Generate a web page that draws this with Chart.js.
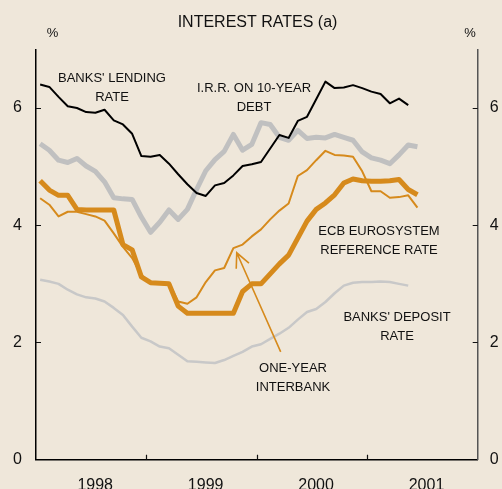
<!DOCTYPE html>
<html>
<head>
<meta charset="utf-8">
<script src="https://cdn.jsdelivr.net/npm/chart.js@4.4.1/dist/chart.umd.min.js"></script>
<style>
  html, body { margin: 0; padding: 0; background: #EFE7DA; }
  canvas { display: block; }
</style>
</head>
<body>
<canvas id="c" width="502" height="489"></canvas>
<script>
// ---------- DATA ----------
const months = [
  '1998-01','1998-02','1998-03','1998-04','1998-05','1998-06','1998-07','1998-08','1998-09','1998-10','1998-11','1998-12',
  '1999-01','1999-02','1999-03','1999-04','1999-05','1999-06','1999-07','1999-08','1999-09','1999-10','1999-11','1999-12',
  '2000-01','2000-02','2000-03','2000-04','2000-05','2000-06','2000-07','2000-08','2000-09','2000-10','2000-11','2000-12',
  '2001-01','2001-02','2001-03','2001-04','2001-05','2001-06'
];
const banksLendingRate = [
  6.40, 6.36, 6.19, 6.03, 6.00, 5.93, 5.92, 5.97, 5.79, 5.72, 5.56, 5.18,
  5.17, 5.20, 5.05, 4.87, 4.70, 4.55, 4.50, 4.68, 4.72, 4.85, 5.01, 5.04,
  5.08, 5.31, 5.54, 5.49, 5.78, 5.85, 6.15, 6.45, 6.34, 6.35, 6.39, 6.34,
  6.28, 6.24, 6.08, 6.16, 6.05, null
];
const irr10YearDebt = [
  5.39, 5.28, 5.11, 5.07, 5.14, 5.01, 4.92, 4.74, 4.47, 4.45, 4.44, 4.14,
  3.88, 4.05, 4.26, 4.10, 4.27, 4.61, 4.93, 5.12, 5.26, 5.55, 5.28, 5.38,
  5.75, 5.72, 5.50, 5.45, 5.62, 5.48, 5.50, 5.49, 5.55, 5.50, 5.45, 5.25,
  5.15, 5.11, 5.05, 5.20, 5.37, 5.34
];
const ecbReferenceRate = [
  4.76, 4.60, 4.51, 4.51, 4.27, 4.26, 4.26, 4.26, 4.26, 3.67, 3.58, 3.12,
  3.02, 3.01, 3.00, 2.62, 2.50, 2.50, 2.50, 2.50, 2.50, 2.50, 2.87, 3.00,
  3.00, 3.17, 3.34, 3.49, 3.78, 4.07, 4.27, 4.38, 4.52, 4.72, 4.79, 4.76,
  4.75, 4.75, 4.76, 4.78, 4.61, 4.52
];
const oneYearInterbank = [
  4.46, 4.35, 4.15, 4.23, 4.23, 4.19, 4.15, 4.08, 3.86, 3.63, 3.44, 3.15,
  3.02, 3.01, 3.01, 2.70, 2.66, 2.77, 3.03, 3.23, 3.27, 3.61, 3.67, 3.81,
  3.93, 4.10, 4.25, 4.37, 4.84, 4.94, 5.11, 5.27, 5.20, 5.19, 5.17, 4.92,
  4.58, 4.58, 4.47, 4.48, 4.51, 4.30
];
const banksDepositRate = [
  3.07, 3.04, 3.00, 2.90, 2.82, 2.77, 2.75, 2.70, 2.59, 2.47, 2.27, 2.08,
  2.02, 1.93, 1.90, 1.79, 1.68, 1.67, 1.66, 1.65, 1.70, 1.77, 1.84, 1.93,
  1.97, 2.06, 2.15, 2.25, 2.39, 2.52, 2.57, 2.69, 2.84, 2.97, 3.02, 3.03,
  3.03, 3.04, 3.03, 3.00, 2.97, null
];
const yTickValues = [0, 2, 4, 6];
const yearLabels = ['1998', '1999', '2000', '2001'];
const yearTickValues = [1999, 2000, 2001];

// ---------- helpers ----------
function monthToX(m) {
  const [y, mo] = m.split('-').map(Number);
  return y + (mo - 1 + 0.45) / 12;
}
function series(vals) {
  return months.map((m, i) => ({ x: monthToX(m), y: vals[i] }));
}

const FONT = '"Liberation Sans", Arial, Helvetica, sans-serif';
const TEXT = '#111111';
const ORANGE = '#D68A1C';
const GREY = '#C0C0C0';

// Annotation texts (pixel layout)
const annotations = [
  { lines: ["BANKS' LENDING", 'RATE'], x: 112, y: 78 },
  { lines: ['I.R.R. ON 10-YEAR', 'DEBT'], x: 254, y: 88 },
  { lines: ['ECB EUROSYSTEM', 'REFERENCE RATE'], x: 379, y: 231 },
  { lines: ["BANKS' DEPOSIT", 'RATE'], x: 397, y: 317.5 },
  { lines: ['ONE-YEAR', 'INTERBANK'], x: 293, y: 368.5 }
];
// Arrow in data coordinates (decimal year, %)
const arrow = { from: { x: 2000.216, y: 1.84 }, to: { x: 1999.818, y: 3.53 } };

const decor = {
  id: 'decor',
  afterDraw(chart) {
    const ctx = chart.ctx;
    const xs = chart.scales.x, ys = chart.scales.y;
    const area = chart.chartArea;
    ctx.save();
    // inward tick marks
    ctx.strokeStyle = '#111';
    ctx.lineWidth = 1.2;
    ctx.beginPath();
    yTickValues.forEach(v => {
      if (v === 0) return;
      const py = Math.round(ys.getPixelForValue(v)) + 0.5;
      ctx.moveTo(area.left, py); ctx.lineTo(area.left + 5, py);
      ctx.moveTo(area.right - 5, py); ctx.lineTo(area.right, py);
    });
    yearTickValues.forEach(v => {
      const px = Math.round(xs.getPixelForValue(v)) + 0.5;
      ctx.moveTo(px, area.bottom); ctx.lineTo(px, area.bottom - 5);
    });
    ctx.stroke();

    // arrow
    const x1 = xs.getPixelForValue(arrow.from.x), y1 = ys.getPixelForValue(arrow.from.y);
    const x2 = xs.getPixelForValue(arrow.to.x), y2 = ys.getPixelForValue(arrow.to.y);
    ctx.strokeStyle = ORANGE;
    ctx.lineWidth = 1.6;
    ctx.beginPath();
    ctx.moveTo(x1, y1); ctx.lineTo(x2, y2);
    const ang = Math.atan2(y1 - y2, x1 - x2);
    const hl = 16, ha = 0.45;
    ctx.moveTo(x2 + hl * Math.cos(ang - ha), y2 + hl * Math.sin(ang - ha));
    ctx.lineTo(x2, y2);
    ctx.lineTo(x2 + hl * Math.cos(ang + ha), y2 + hl * Math.sin(ang + ha));
    ctx.stroke();

    // texts
    ctx.fillStyle = TEXT;
    ctx.textAlign = 'center';
    ctx.textBaseline = 'middle';
    ctx.font = '16px ' + FONT;
    ctx.fillText('INTEREST RATES (a)', 257.5, 23);
    ctx.font = '13px ' + FONT;
    ctx.fillText('%', 52.5, 33);
    ctx.fillText('%', 470, 33);
    annotations.forEach(a => {
      a.lines.forEach((t, i) => ctx.fillText(t, a.x, a.y + i * 19));
    });
    ctx.restore();
  }
};

const commonY = {
  type: 'linear', min: 0, max: 7,
  afterBuildTicks(s) { s.ticks = yTickValues.map(v => ({ value: v })); },
  grid: { color: 'transparent', drawTicks: false },
  ticks: { font: { size: 16, family: FONT }, color: TEXT }
};

new Chart(document.getElementById('c'), {
  type: 'line',
  data: {
    datasets: [
      { label: "Banks' lending rate", data: series(banksLendingRate), borderColor: '#000', borderWidth: 2 },
      { label: 'ECB Eurosystem reference rate', data: series(ecbReferenceRate), borderColor: ORANGE, borderWidth: 5 },
      { label: 'One-year interbank', data: series(oneYearInterbank), borderColor: ORANGE, borderWidth: 2 },
      { label: 'I.R.R. on 10-year debt', data: series(irr10YearDebt), borderColor: GREY, borderWidth: 5 },
      { label: "Banks' deposit rate", data: series(banksDepositRate), borderColor: '#C8C8C8', borderWidth: 2.5 }
    ]
  },
  options: {
    responsive: false,
    animation: false,
    devicePixelRatio: 1,
    layout: { padding: { top: 49.4, left: 0, right: 0, bottom: 0 } },
    elements: {
      point: { radius: 0 },
      line: { tension: 0, fill: false, borderJoinStyle: 'round', borderCapStyle: 'butt', spanGaps: false }
    },
    plugins: { legend: { display: false }, title: { display: false }, tooltip: { enabled: false } },
    scales: {
      x: {
        type: 'linear', position: 'bottom', min: 1998, max: 2002,
        afterFit(s) { s.height = 29.3; },
        afterBuildTicks(s) { s.ticks = yearLabels.map(y => ({ value: Number(y) + 0.5 })); },
        grid: { color: 'transparent', drawTicks: false },
        border: { display: true, color: '#000', width: 1.5 },
        ticks: {
          autoSkip: false, maxRotation: 0, padding: 16, labelOffset: 4,
          font: { size: 16, family: FONT }, color: TEXT,
          callback: (v, i) => yearLabels[i]
        }
      },
      y: Object.assign({}, commonY, {
        position: 'left',
        afterFit(s) { s.width = 36; },
        border: { display: true, color: '#000', width: 1.5 },
        ticks: Object.assign({}, commonY.ticks, { padding: 14 })
      }),
      y2: Object.assign({}, commonY, {
        position: 'right',
        afterFit(s) { s.width = 24.3; },
        border: { display: true, color: '#555', width: 1.5 },
        ticks: Object.assign({}, commonY.ticks, { padding: 12 })
      })
    }
  },
  plugins: [decor]
});
</script>
</body>
</html>
